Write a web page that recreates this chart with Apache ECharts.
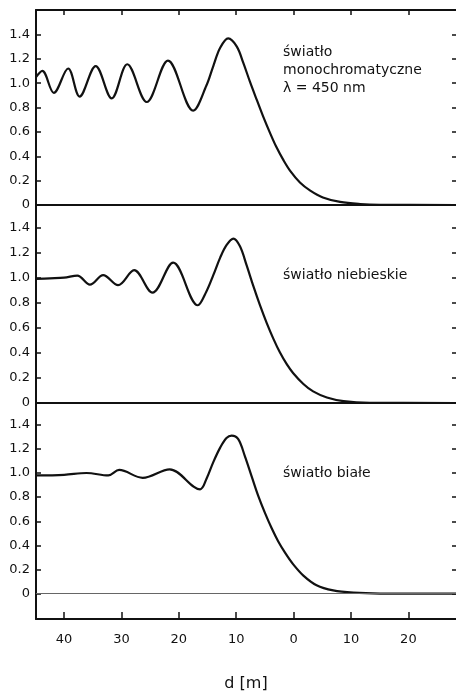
<!DOCTYPE html>
<html>
<head>
<meta charset="utf-8">
<script src="https://cdn.jsdelivr.net/npm/echarts@6/dist/echarts.min.js"></script>
<style>
  html, body { margin: 0; padding: 0; background: #fff; }
  #chart { width: 456px; height: 693px; }
</style>
</head>
<body>
<div id="chart"></div>
<script>
// d positions (axis units, labels shown as |d|) and relative intensity
const dTicks = [-40, -30, -20, -10, 0, 10, 20]
const yTicks = [0, 0.2, 0.4, 0.6, 0.8, 1.0, 1.2, 1.4]

const monoD = [-44.9, -43.8, -41.8, -39.3, -37.3, -34.5, -31.7, -29.0, -25.6, -21.9, -17.5, -15.2, -14.0, -12.8, -11.4, -9.9, -8.8, -7.6, -6.4, -5.3, -4.1, -3.0, -1.8, -0.6, 1.1, 2.9, 5.1, 8.1, 11.6, 15.1, 28.3]
const monoI = [1.05, 1.10, 0.92, 1.12, 0.89, 1.14, 0.875, 1.155, 0.845, 1.185, 0.775, 0.98, 1.14, 1.29, 1.367, 1.30, 1.17, 1.01, 0.86, 0.725, 0.59, 0.475, 0.37, 0.28, 0.185, 0.118, 0.062, 0.025, 0.008, 0.002, 0]

const blueD = [-44.9, -42.5, -40.0, -37.7, -35.5, -33.2, -30.6, -27.8, -24.6, -21.0, -16.7, -15.2, -14.0, -12.8, -11.7, -10.5, -9.35, -8.2, -7.0, -5.9, -4.7, -3.5, -2.4, -1.2, -0.1, 1.7, 3.4, 5.8, 8.7, 13.3, 28.3]
const blueI = [0.99, 0.995, 1.0, 1.016, 0.944, 1.02, 0.94, 1.06, 0.88, 1.12, 0.78, 0.89, 1.02, 1.16, 1.26, 1.312, 1.25, 1.10, 0.93, 0.785, 0.64, 0.51, 0.405, 0.31, 0.24, 0.152, 0.093, 0.044, 0.015, 0.002, 0]

const whiteD = [-44.9, -40.0, -36.1, -32.3, -30.4, -26.3, -21.6, -16.3, -15.2, -14.0, -12.8, -11.7, -10.8, -9.65, -8.5, -7.3, -6.2, -5.0, -3.8, -2.7, -1.5, -0.1, 1.7, 4.0, 6.9, 10.4, 15.1, 28.3]
const whiteI = [0.98, 0.985, 1.0, 0.98, 1.025, 0.96, 1.03, 0.865, 0.95, 1.09, 1.21, 1.29, 1.31, 1.28, 1.14, 0.97, 0.815, 0.67, 0.54, 0.435, 0.34, 0.245, 0.15, 0.07, 0.027, 0.008, 0.001, 0]

const labels = ['światło\nmonochromatyczne\nλ = 450 nm', 'światło niebieskie', 'światło białe']

const pair = (xs, ys) => xs.map((x, i) => [x, ys[i]])

const FONT = 'DejaVu Sans'
const INK = '#111'

const chart = echarts.init(document.getElementById('chart'))

const xBase = (gridIndex, position) => ({
  type: 'value', gridIndex, position, min: -44.9, max: 28.3,
  axisLine: { show: true, onZero: false, lineStyle: { color: INK, width: 2 } },
  axisTick: { show: false },
  axisLabel: { show: false },
  splitLine: { show: false }
})

const yLeft = (gridIndex, min, max) => ({
  type: 'value', gridIndex, min, max, position: 'left',
  axisLine: { show: true, onZero: false, lineStyle: { color: INK, width: 2 } },
  axisTick: { show: true, inside: true, length: 5, customValues: yTicks, lineStyle: { color: INK, width: 1.5 } },
  axisLabel: {
    customValues: yTicks, margin: 6, color: INK, fontFamily: FONT, fontSize: 13,
    formatter: v => (v === 0 ? '0' : v.toFixed(1))
  },
  splitLine: { show: false }
})

const yRight = (gridIndex, min, max) => ({
  type: 'value', gridIndex, min, max, position: 'right',
  axisLine: { show: false, onZero: false },
  axisTick: { show: true, inside: true, length: 4, customValues: yTicks, lineStyle: { color: INK, width: 1.5 } },
  axisLabel: { show: false },
  splitLine: { show: false }
})

const lineSeries = (idx, data, extra) => Object.assign({
  type: 'line', xAxisIndex: idx, yAxisIndex: idx * 2, data,
  smooth: 0.35, showSymbol: false, symbol: 'none',
  lineStyle: { color: INK, width: 2.2 }, silent: true
}, extra || {})

chart.setOption({
  animation: false,
  backgroundColor: '#fff',
  grid: [
    { left: 36, right: 0, top: 10, height: 195 },
    { left: 36, right: 0, top: 205, height: 198 },
    { left: 36, right: 0, top: 403, height: 220 }
  ],
  xAxis: [
    xBase(0, 'bottom'),
    xBase(1, 'bottom'),
    Object.assign(xBase(2, 'bottom'), {
      axisTick: { show: true, inside: true, length: 7, customValues: dTicks, lineStyle: { color: INK, width: 1.5 } },
      axisLabel: {
        show: true, customValues: dTicks, margin: 14, color: INK, fontFamily: FONT, fontSize: 13,
        formatter: v => String(Math.abs(v))
      },
      name: 'd [m]', nameLocation: 'middle', nameGap: 57,
      nameTextStyle: { color: INK, fontFamily: FONT, fontSize: 16 }
    }),
    Object.assign(xBase(0, 'top'), {
      axisTick: { show: true, inside: true, length: 5, customValues: dTicks, lineStyle: { color: INK, width: 1.5 } }
    })
  ],
  yAxis: [
    yLeft(0, 0, 1.6), yRight(0, 0, 1.6),
    yLeft(1, 0, 1.58), yRight(1, 0, 1.58),
    yLeft(2, -0.21, 1.58), yRight(2, -0.21, 1.58)
  ],
  graphic: [
    { type: 'text', left: 283, top: 43, style: { text: labels[0], fill: INK, font: '14px "DejaVu Sans"', lineHeight: 18 } },
    { type: 'text', left: 283, top: 266, style: { text: labels[1], fill: INK, font: '14px "DejaVu Sans"', lineHeight: 18 } },
    { type: 'text', left: 283, top: 464, style: { text: labels[2], fill: INK, font: '14px "DejaVu Sans"', lineHeight: 18 } }
  ],
  series: [
    lineSeries(0, pair(monoD, monoI)),
    lineSeries(1, pair(blueD, blueI)),
    lineSeries(2, pair(whiteD, whiteI), {
      markLine: {
        silent: true, symbol: 'none', label: { show: false },
        lineStyle: { color: '#666', width: 1, type: 'solid' },
        data: [{ yAxis: 0 }]
      }
    })
  ]
})
</script>
</body>
</html>
